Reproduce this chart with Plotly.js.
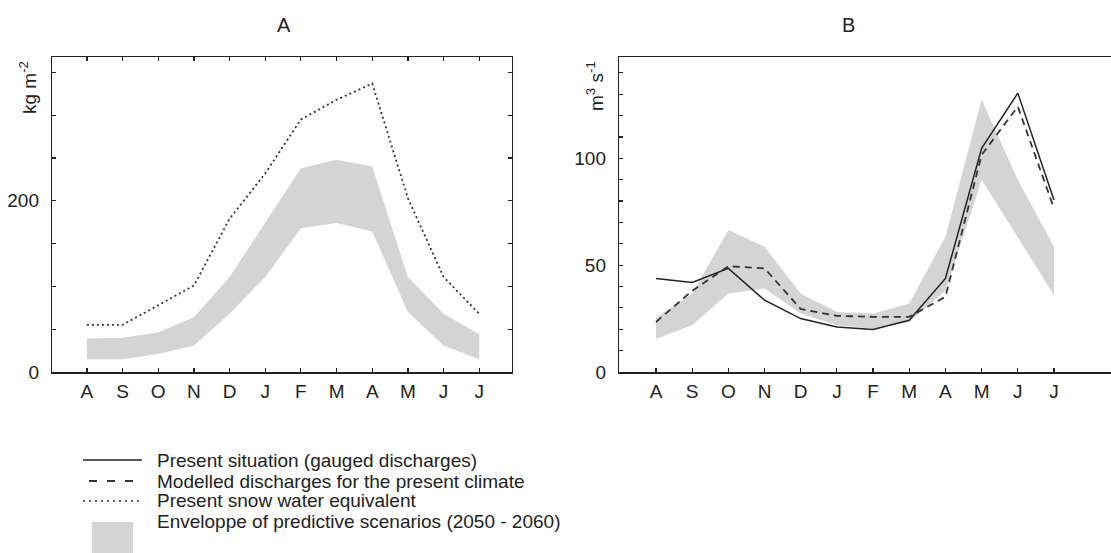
<!DOCTYPE html>
<html>
<head>
<meta charset="utf-8">
<script src="https://cdn.plot.ly/plotly-3.0.1.min.js"></script>
<style>
html,body{margin:0;padding:0;overflow:hidden;background:#fff;}
#chart{width:1140px;height:553px;}
</style>
</head>
<body>
<div id="chart"></div>
<script>
// ---- data ----
const months = ['A','S','O','N','D','J','F','M','A','M','J','J'];
// Panel A: snow water equivalent (kg m-2)
const sweA = [55, 55, 78, 101, 179, 232, 295, 318, 337, 203, 111, 68];
const envAUpper = [39, 40, 46, 64, 111, 174, 238, 248, 240, 111, 68, 44];
const envALower = [15, 15, 21, 31, 68, 111, 168, 174, 164, 70, 31, 15];
// Panel B: discharges (m3 s-1)
const gauged = [43.8, 41.9, 48.5, 33.6, 25.0, 21.1, 19.9, 24.2, 43.8, 104.7, 130.5, 80.5];
const modelled = [23.4, 38.0, 49.5, 48.5, 29.5, 26.3, 25.8, 25.8, 35.2, 101.6, 124.2, 76.6];
const envBUpper = [25.5, 36.7, 66.4, 58.6, 36.7, 28.1, 27.4, 32.0, 63.3, 127.4, 90.0, 58.6];
const envBLower = [15.6, 21.9, 36.7, 39.1, 27.4, 21.9, 20.3, 23.4, 38.0, 89.9, 63.0, 36.0];
// axis ticks
const yLabelTicksA = [0, 200];
const yMinorStepA = 50;
const yLabelTicksB = [0, 50, 100];
const yMinorStepB = 10;
const panelTitles = ['A', 'B'];
const yTitles = ['kg m<sup>-2</sup>', 'm<sup>3</sup> s<sup>-1</sup>'];
const legendLabels = [
  'Present situation (gauged discharges)',
  'Modelled discharges for the present climate',
  'Present snow water equivalent',
  'Enveloppe of predictive scenarios (2050 - 2060)'
];

// ---- layout helpers ----
const W = 1140, H = 553;
const px = x => x / W;
const py = y => 1 - y / H;
const xIdx = months.map((m, i) => i);
const envColor = '#d4d4d4';
const lineCol = '#222';
const font = 'Liberation Sans, Arial, sans-serif';

const traces = [
  {x: xIdx, y: envALower, xaxis: 'x', yaxis: 'y', mode: 'lines', line: {width: 0, color: envColor}, hoverinfo: 'skip', showlegend: false},
  {x: xIdx, y: envAUpper, xaxis: 'x', yaxis: 'y', mode: 'lines', fill: 'tonexty', fillcolor: envColor, line: {width: 0, color: envColor}, showlegend: false},
  {x: xIdx, y: sweA, xaxis: 'x', yaxis: 'y', mode: 'lines', line: {color: '#333', width: 1.8, dash: '2px,3px'}, showlegend: false},
  {x: xIdx, y: envBLower, xaxis: 'x2', yaxis: 'y2', mode: 'lines', line: {width: 0, color: envColor}, hoverinfo: 'skip', showlegend: false},
  {x: xIdx, y: envBUpper, xaxis: 'x2', yaxis: 'y2', mode: 'lines', fill: 'tonexty', fillcolor: envColor, line: {width: 0, color: envColor}, showlegend: false},
  {x: xIdx, y: modelled, xaxis: 'x2', yaxis: 'y2', mode: 'lines', line: {color: '#333', width: 1.8, dash: '7px,5px'}, showlegend: false},
  {x: xIdx, y: gauged, xaxis: 'x2', yaxis: 'y2', mode: 'lines', line: {color: lineCol, width: 1.5}, showlegend: false}
];

const axCommon = {
  showgrid: false, zeroline: false, showline: true, linecolor: '#222', linewidth: 1.5,
  ticks: 'inside', ticklen: 4, tickcolor: '#222', tickwidth: 1.2,
  tickfont: {family: font, size: 19, color: '#222'}
};

const ann = (text, x, y, extra) => Object.assign({
  text: text, x: px(x), y: py(y), xref: 'paper', yref: 'paper',
  xanchor: 'center', yanchor: 'middle', showarrow: false
}, extra);

const layout = {
  width: W, height: H, autosize: false,
  margin: {l: 0, r: 0, t: 0, b: 0},
  paper_bgcolor: '#fff', plot_bgcolor: '#fff',
  showlegend: false,
  xaxis: Object.assign({}, axCommon, {
    domain: [px(52.3), px(511.7)], range: [-0.97, 11.91], anchor: 'y',
    tickvals: xIdx, ticktext: months, mirror: 'ticks', ticklabelstandoff: 2
  }),
  yaxis: Object.assign({}, axCommon, {
    domain: [py(372), py(57)], range: [0, 368], anchor: 'x',
    tickvals: yLabelTicksA, mirror: 'ticks', ticklabelstandoff: 8,
    minor: {tickmode: 'linear', tick0: 0, dtick: yMinorStepA, ticks: 'inside', ticklen: 4, tickcolor: '#222', tickwidth: 1.2, showgrid: false}
  }),
  xaxis2: Object.assign({}, axCommon, {
    domain: [px(619.3), 1], range: [-1.014, (W - 656) / 36.18], anchor: 'y2',
    tickvals: xIdx, ticktext: months, mirror: true, ticklabelstandoff: 2
  }),
  yaxis2: Object.assign({}, axCommon, {
    domain: [py(372), py(57)], range: [0, 147.4], anchor: 'x2',
    tickvals: yLabelTicksB, mirror: true, ticklabelstandoff: 8,
    minor: {tickmode: 'linear', tick0: 0, dtick: yMinorStepB, ticks: 'inside', ticklen: 4, tickcolor: '#222', tickwidth: 1.2, showgrid: false}
  }),
  annotations: [
    ann(panelTitles[0], 284, 25, {font: {family: font, size: 20, color: '#222'}}),
    ann(panelTitles[1], 848, 25, {font: {family: font, size: 20, color: '#222'}}),
    ann(yTitles[0], 28, 88, {textangle: -90, font: {family: font, size: 19, color: '#222'}}),
    ann(yTitles[1], 595, 86, {textangle: -90, font: {family: font, size: 19, color: '#222'}})
  ].concat(legendLabels.map((t, i) => ann(t, 155, [460, 481, 500, 521][i], {
    xanchor: 'left', font: {family: font, size: 19, color: '#222'}
  }))),
  shapes: [
    {type: 'line', xref: 'paper', yref: 'paper', x0: px(83), x1: px(142), y0: py(460), y1: py(460), line: {color: lineCol, width: 1.5}},
    {type: 'line', xref: 'paper', yref: 'paper', x0: px(89), x1: px(142), y0: py(481), y1: py(481), line: {color: '#333', width: 1.8, dash: '8px,10px'}},
    {type: 'line', xref: 'paper', yref: 'paper', x0: px(83), x1: px(142), y0: py(501), y1: py(501), line: {color: '#333', width: 1.4, dash: '2px,4px'}},
    {type: 'rect', xref: 'paper', yref: 'paper', x0: px(92), x1: px(133), y0: py(522), y1: py(556), fillcolor: envColor, line: {width: 0}}
  ]
};

Plotly.newPlot('chart', traces, layout, {displayModeBar: false, staticPlot: true});
</script>
</body>
</html>
